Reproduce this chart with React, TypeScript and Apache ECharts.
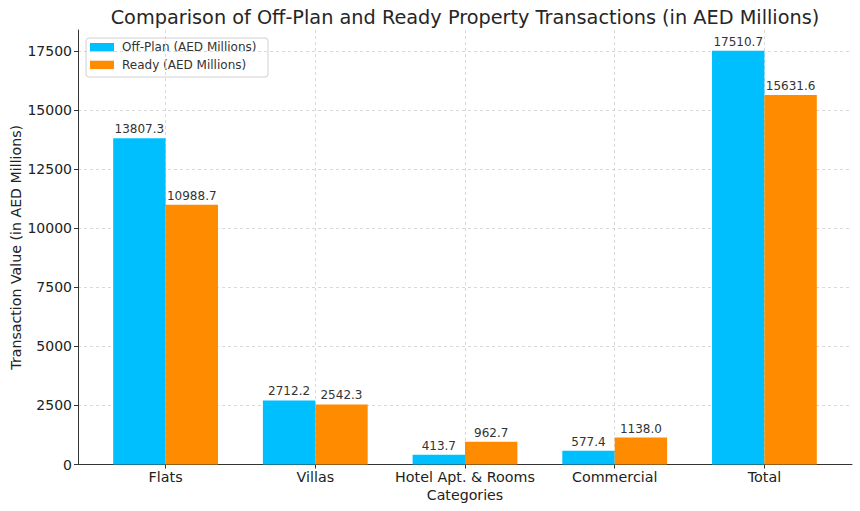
import React, { useEffect, useRef } from "react";
import * as echarts from "echarts";

const categories = ["Flats", "Villas", "Hotel Apt. & Rooms", "Commercial", "Total"];
const offPlan = [13807.3, 2712.2, 413.7, 577.4, 17510.7];
const ready = [10988.7, 2542.3, 962.7, 1138.0, 15631.6];
const yTicks = [0, 2500, 5000, 7500, 10000, 12500, 15000, 17500];
const seriesNames = ["Off-Plan (AED Millions)", "Ready (AED Millions)"];
const colors = ["#00BFFF", "#FF8C00"];

const W = 860;
const H = 511;
const GL = 78;
const GR = 8;
const GT = 30;
const GB = 46.5;
const XMIN = -0.585;
const XMAX = 4.585;
const BAR = 0.35;
const FONT = "DejaVu Sans";

export default function App() {
  const ref = useRef<HTMLDivElement>(null);
  useEffect(() => {
    document.body.style.margin = "0";
    const chart = echarts.init(ref.current!, null, { renderer: "svg" });
    const data: any[] = [];
    categories.forEach((_, i) => {
      data.push([i - BAR / 2, offPlan[i], 0]);
      data.push([i + BAR / 2, ready[i], 1]);
    });
    const idx = categories.map((_, i) => i);
    const plotCenter = GL + (W - GL - GR) / 2;
    const option: any = {
      animation: false,
      textStyle: { fontFamily: FONT },
      grid: { left: GL, right: GR, top: GT, bottom: GB, containLabel: false, outerBoundsMode: "none" },
      xAxis: {
        type: "value",
        min: XMIN,
        max: XMAX,
        name: "Categories",
        nameLocation: "middle",
        nameGap: 21,
        nameTextStyle: { fontSize: 14.2, color: "#222", fontFamily: FONT, verticalAlign: "top" },
        axisLine: { show: true, onZero: false, lineStyle: { color: "#333", width: 1 } },
        axisTick: { show: true, length: 4, customValues: idx, lineStyle: { color: "#333" } },
        axisLabel: {
          customValues: idx,
          fontSize: 14.3,
          color: "#222",
          fontFamily: FONT,
          margin: 5,
          formatter: (v: number) => categories[Math.round(v)] ?? "",
        },
        splitLine: { show: true, lineStyle: { color: "#cfcfcf", type: [3, 3], width: 0.8 } },
      },
      yAxis: {
        type: "value",
        min: 0,
        max: 18386,
        name: "Transaction Value (in AED Millions)",
        nameLocation: "middle",
        nameGap: 55,
        nameMoveOverlap: false,
        nameTextStyle: { fontSize: 14.2, color: "#222", fontFamily: FONT },
        axisLine: { show: true, onZero: false, lineStyle: { color: "#333", width: 1 } },
        axisTick: { show: true, length: 4, customValues: yTicks, lineStyle: { color: "#333" } },
        axisLabel: {
          customValues: yTicks,
          fontSize: 14,
          color: "#222",
          fontFamily: FONT,
          margin: 6,
          formatter: (v: number) => String(v),
        },
        splitLine: { show: true, lineStyle: { color: "#cfcfcf", type: [3, 3], width: 0.8 } },
      },
      series: [
        {
          type: "custom",
          data,
          encode: { x: 0, y: 1 },
          clip: false,
          renderItem: (params: any, api: any) => {
            const x = api.value(0);
            const y = api.value(1);
            const c = api.value(2);
            const p0 = api.coord([x - BAR / 2, y]);
            const p1 = api.coord([x + BAR / 2, 0]);
            return {
              type: "group",
              children: [
                {
                  type: "rect",
                  shape: { x: p0[0], y: p0[1], width: p1[0] - p0[0], height: p1[1] - p0[1] },
                  style: { fill: colors[c] },
                },
                {
                  type: "text",
                  x: (p0[0] + p1[0]) / 2,
                  y: p0[1] - 3,
                  style: {
                    text: Number(y).toFixed(1),
                    align: "center",
                    verticalAlign: "bottom",
                    fontSize: 12,
                    fontFamily: FONT,
                    fill: "#333",
                  },
                },
              ],
            };
          },
        },
      ],
      graphic: [
        {
          type: "text",
          style: {
            text: "Comparison of Off-Plan and Ready Property Transactions (in AED Millions)",
            x: plotCenter,
            y: 17,
            align: "center",
            verticalAlign: "middle",
            fontSize: 19.3,
            fontFamily: FONT,
            fill: "#262626",
          },
        },
        {
          type: "group",
          x: 86,
          y: 38,
          children: [
            {
              type: "rect",
              shape: { x: 0, y: 0, width: 182, height: 39, r: 3 },
              style: { fill: "rgba(255,255,255,0.85)", stroke: "#d0d0d0", lineWidth: 1 },
            },
            {
              type: "rect",
              shape: { x: 4, y: 5, width: 24, height: 8.4 },
              style: { fill: colors[0] },
            },
            {
              type: "text",
              x: 36,
              y: 9.2,
              style: { text: seriesNames[0], fontSize: 12, fontFamily: FONT, fill: "#333", verticalAlign: "middle" },
            },
            {
              type: "rect",
              shape: { x: 4, y: 22.7, width: 24, height: 8.4 },
              style: { fill: colors[1] },
            },
            {
              type: "text",
              x: 36,
              y: 26.9,
              style: { text: seriesNames[1], fontSize: 12, fontFamily: FONT, fill: "#333", verticalAlign: "middle" },
            },
          ],
        },
      ],
    };
    chart.setOption(option);
    return () => chart.dispose();
  }, []);
  return <div ref={ref} style={{ width: W, height: H }} />;
}
